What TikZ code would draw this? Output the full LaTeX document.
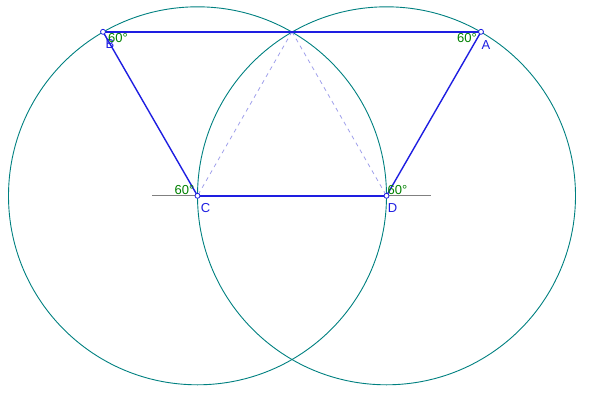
\documentclass[tikz,border=0pt]{standalone}
\usepackage{fontspec}
\setmainfont{Liberation Sans}
\definecolor{segblue}{RGB}{30,30,225}
\definecolor{circteal}{RGB}{0,128,128}
\definecolor{anggreen}{RGB}{0,128,0}
\definecolor{dashpurple}{RGB}{160,160,235}
\definecolor{axisgray}{RGB}{128,128,128}
\begin{document}
\begin{tikzpicture}[x=1pt,y=-1pt,
  seg/.style={draw=segblue,line width=1.4pt},
  circ/.style={draw=circteal,line width=0.9pt},
  aux/.style={draw=dashpurple,line width=0.8pt,dash pattern=on 4pt off 4pt},
  axis/.style={draw=axisgray,line width=0.9pt},
  pt/.style={circle,draw=segblue,fill=white,inner sep=0pt,minimum size=5pt,line width=0.8pt},
  ptlabel/.style={text=segblue,font=\fontsize{13}{13}\selectfont,inner sep=0pt},
  anglabel/.style={text=anggreen,font=\fontsize{13}{13}\selectfont,inner sep=0pt}]
\useasboundingbox (0,0) rectangle (590,400);
\coordinate (C) at (197.5,195.8);
\coordinate (D) at (386.5,195.8);
\coordinate (B) at (103,31.8);
\coordinate (A) at (481,31.8);
\coordinate (T) at (292,31.8);
\coordinate (L) at (152,195.8);
\coordinate (R) at (431,195.8);
% circles
\draw[circ] (C) circle[radius=189];
\draw[circ] (D) circle[radius=189];
% horizontal line
\draw[axis] (L) -- (R);
% dashed auxiliary
\draw[aux] (T) -- (C);
\draw[aux] (T) -- (D);
% segments
\draw[seg] (B) -- (A);
\draw[seg] (B) -- (C);
\draw[seg] (C) -- (D);
\draw[seg] (D) -- (A);
% points
\node[pt] (pB) at (B) {};
\node[pt] (pA) at (A) {};
\node[pt] (pC) at (C) {};
\node[pt] (pD) at (D) {};
% labels
\node[ptlabel] (lB) at (110,44.5) {B};
\node[ptlabel] (lA) at (486,45) {A};
\node[ptlabel] (lC) at (205.5,208.5) {C};
\node[ptlabel] (lD) at (392.5,208.5) {D};
\node[anglabel] (aB) at (118,38) {60°};
\node[anglabel] (aA) at (467,38) {60°};
\node[anglabel] (aC) at (184.5,190) {60°};
\node[anglabel] (aD) at (397.5,190) {60°};
\end{tikzpicture}
\end{document}
